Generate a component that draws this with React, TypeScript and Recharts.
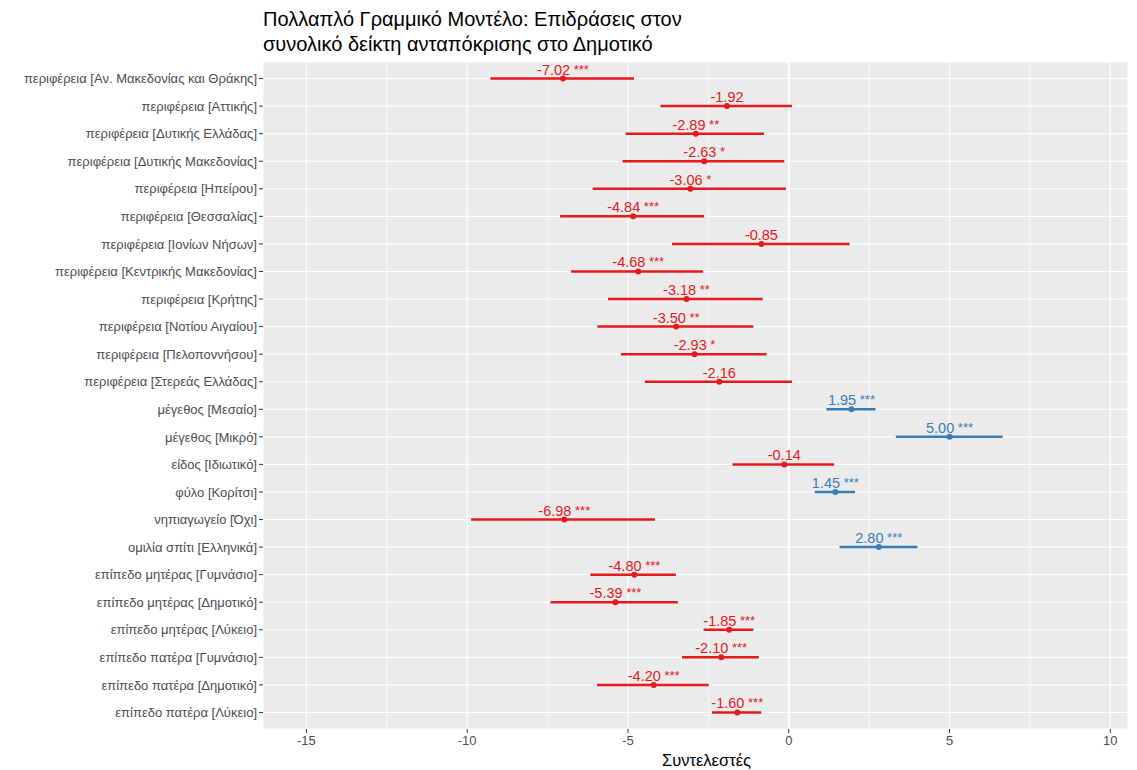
import React from "react";
import { CartesianGrid, ReferenceLine, Scatter, ScatterChart, XAxis, YAxis } from "recharts";

const terms = [
  "περιφέρεια [Αν. Μακεδονίας και Θράκης]",
  "περιφέρεια [Αττικής]",
  "περιφέρεια [Δυτικής Ελλάδας]",
  "περιφέρεια [Δυτικής Μακεδονίας]",
  "περιφέρεια [Ηπείρου]",
  "περιφέρεια [Θεσσαλίας]",
  "περιφέρεια [Ιονίων Νήσων]",
  "περιφέρεια [Κεντρικής Μακεδονίας]",
  "περιφέρεια [Κρήτης]",
  "περιφέρεια [Νοτίου Αιγαίου]",
  "περιφέρεια [Πελοποννήσου]",
  "περιφέρεια [Στερεάς Ελλάδας]",
  "μέγεθος [Μεσαίο]",
  "μέγεθος [Μικρό]",
  "είδος [Ιδιωτικό]",
  "φύλο [Κορίτσι]",
  "νηπιαγωγείο [Όχι]",
  "ομιλία σπίτι [Ελληνικά]",
  "επίπεδο μητέρας [Γυμνάσιο]",
  "επίπεδο μητέρας [Δημοτικό]",
  "επίπεδο μητέρας [Λύκειο]",
  "επίπεδο πατέρα [Γυμνάσιο]",
  "επίπεδο πατέρα [Δημοτικό]",
  "επίπεδο πατέρα [Λύκειο]",
];

const estimates = [-7.02, -1.92, -2.89, -2.63, -3.06, -4.84, -0.85, -4.68, -3.18, -3.5, -2.93, -2.16, 1.95, 5.0, -0.14, 1.45, -6.98, 2.8, -4.8, -5.39, -1.85, -2.1, -4.2, -1.6];
const ciLow = [-9.28, -3.99, -5.07, -5.17, -6.1, -7.11, -3.63, -6.77, -5.62, -5.95, -5.22, -4.47, 1.17, 3.33, -1.75, 0.81, -9.88, 1.58, -6.17, -7.41, -2.65, -3.32, -5.96, -2.39];
const ciHigh = [-4.81, 0.1, -0.77, -0.14, -0.09, -2.63, 1.89, -2.66, -0.81, -1.1, -0.69, 0.1, 2.7, 6.65, 1.41, 2.06, -4.16, 4.0, -3.51, -3.45, -1.1, -0.93, -2.49, -0.86];
const stars = ["***", "", "**", "*", "*", "***", "", "***", "**", "**", "*", "", "***", "***", "", "***", "***", "***", "***", "***", "***", "***", "***", "***"];

const xTicks = [-15, -10, -5, 0, 5, 10];
const xMinor = [-12.5, -7.5, -2.5, 2.5, 7.5];

const RED = "#E41A1C";
const BLUE = "#377EB8";
const FONT = "'Liberation Sans', Arial, Helvetica, sans-serif";

if (typeof document !== "undefined") document.body.style.margin = "0";

const rows = terms.map((term, i) => ({
  term,
  pos: i + 1,
  est: estimates[i],
  lo: ciLow[i],
  hi: ciHigh[i],
  stars: stars[i],
  color: estimates[i] > 0 ? BLUE : RED,
}));

function PointShape(props: any) {
  const { cx, cy, payload } = props;
  if (cx == null || cy == null) return null;
  return (
    <g>
      <circle cx={cx} cy={cy} r={3} fill={payload.color} />
      <text x={cx} y={cy - 4} textAnchor="middle" fill={payload.color} fontSize={14.5} fontFamily={FONT}>
        {payload.est.toFixed(2)}
        {payload.stars ? (
          <tspan fontSize={13} dy={-1}>
            {" " + payload.stars}
          </tspan>
        ) : null}
      </text>
    </g>
  );
}

// plain tick so long labels stay on one line
function TermTick(props: any) {
  const { x, y, payload } = props;
  return (
    <text x={x} y={y} dy="0.36em" textAnchor="end" fontSize={13} fill="#4D4D4D" fontFamily={FONT}>
      {terms[payload.value - 1]}
    </text>
  );
}

export default function App() {
  return (
    <div style={{ position: "relative", width: 1137, height: 770, background: "#fff", fontFamily: FONT }}>
      <div style={{ position: "absolute", left: 263, top: 7, fontSize: 20, lineHeight: "25px", color: "#000" }}>
        Πολλαπλό Γραμμικό Μοντέλο: Επιδράσεις στον
        <br />
        συνολικό δείκτη ανταπόκρισης στο Δημοτικό
      </div>
      <ScatterChart width={1137} height={770} margin={{ top: 62, right: 9, bottom: 0, left: 0 }}>
        <CartesianGrid fill="#EBEBEB" stroke="#FFFFFF" strokeWidth={1.1} />
        <XAxis
          type="number"
          dataKey="est"
          domain={[-16.35, 10.55]}
          ticks={xTicks}
          allowDataOverflow
          height={41}
          axisLine={false}
          tickSize={4}
          tickLine={{ stroke: "#333" }}
          tick={{ fontSize: 13, fill: "#4D4D4D", fontFamily: FONT }}
          tickMargin={3}
          label={{ value: "Συντελεστές", position: "insideBottom", offset: 4, dx: 11, fontSize: 16.5, fill: "#000", fontFamily: FONT }}
        />
        <YAxis
          type="number"
          dataKey="pos"
          domain={[0.4, 24.6]}
          reversed
          ticks={terms.map((_, i) => i + 1)}
          interval={0}
          width={263}
          axisLine={false}
          tickSize={4}
          tickLine={{ stroke: "#333" }}
          tickMargin={2}
          tick={<TermTick />}
        />
        {xMinor.map((v) => (
          <ReferenceLine key={"m" + v} x={v} stroke="#FFFFFF" strokeWidth={0.6} />
        ))}
        <ReferenceLine x={0} stroke="#FFFFFF" strokeWidth={2} />
        {rows.map((r) => (
          <ReferenceLine
            key={"ci" + r.pos}
            segment={[
              { x: r.lo, y: r.pos },
              { x: r.hi, y: r.pos },
            ]}
            stroke={r.color}
            strokeWidth={2.5}
          />
        ))}
        <Scatter data={rows} shape={PointShape} isAnimationActive={false} />
      </ScatterChart>
    </div>
  );
}
